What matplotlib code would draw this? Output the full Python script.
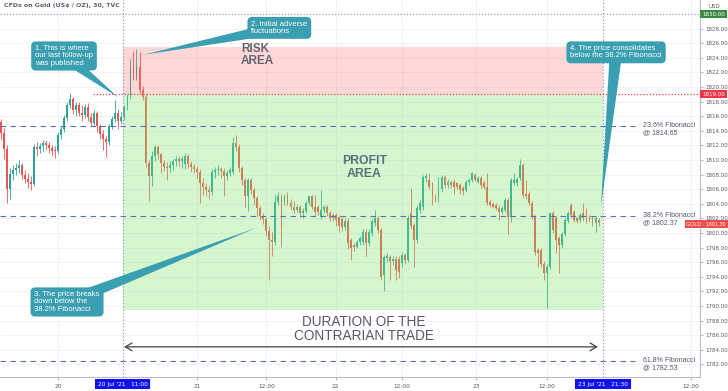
import matplotlib
matplotlib.use("Agg")
import matplotlib.pyplot as plt
from matplotlib.patches import Rectangle

# ---------------- data ----------------
bar_start = -19  # 30-min bars, 0 = 20 Jul 00:00

opens = [
    1815.2, 1813.7, 1811.5, 1806.0, 1808.1, 1808.6, 1808.9, 1809.3, 1807.9, 1807.4,
    1807.0, 1806.7, 1811.8, 1811.5, 1811.9, 1812.3, 1812.0, 1811.6, 1811.3, 1811.2,
    1813.4, 1814.2, 1815.8, 1817.6, 1818.3, 1816.8, 1817.6, 1816.5, 1816.2, 1817.3,
    1815.9, 1815.1, 1816.4, 1814.6, 1813.6, 1812.9, 1812.4, 1814.6, 1815.6, 1816.5,
    1815.4, 1815.9, 1817.2, 1818.7, 1822.7, 1821.4, 1822.8, 1819.6, 1818.6, 1809.6,
    1807.8, 1810.6, 1811.8, 1810.8, 1809.6, 1809.1, 1808.9, 1809.3, 1809.8, 1810.2,
    1809.8, 1809.4, 1810.5, 1809.4, 1809.0, 1808.8, 1808.4, 1806.8, 1806.3, 1805.9,
    1805.6, 1808.4, 1808.6, 1808.8, 1808.5, 1807.8, 1808.2, 1808.4, 1812.3, 1811.8,
    1808.9, 1807.3, 1805.0, 1807.2, 1805.9, 1804.8, 1803.4, 1802.3, 1801.9, 1800.3,
    1799.0, 1798.8, 1804.3, 1805.1, 1804.3, 1805.0, 1804.1, 1803.6, 1803.2, 1803.6,
    1802.7, 1803.0, 1804.1, 1805.0, 1803.6, 1803.6, 1802.2, 1803.1, 1803.6, 1802.7,
    1802.5, 1802.5, 1802.2, 1801.9, 1800.8, 1801.7, 1799.0, 1798.3, 1798.1, 1798.8,
    1798.8, 1800.2, 1798.6, 1800.0, 1801.3, 1802.0, 1800.4, 1794.2, 1796.6, 1796.7,
    1796.1, 1796.5, 1796.5, 1795.9, 1797.0, 1796.3, 1802.7, 1801.1, 1799.0, 1803.1,
    1803.6, 1807.5, 1807.3, 1806.8, 1805.0, 1804.6, 1806.0, 1807.7, 1806.6, 1807.0,
    1807.0, 1806.8, 1806.6, 1806.1, 1805.9, 1807.0, 1807.3, 1808.0, 1807.0, 1807.5,
    1806.8, 1806.3, 1804.3, 1804.0, 1803.8, 1803.4, 1802.9, 1803.2, 1804.5, 1802.2,
    1806.9, 1806.9, 1807.5, 1809.3, 1805.4, 1805.4, 1804.1, 1802.2, 1797.7, 1797.7,
    1795.8, 1794.5, 1795.4, 1802.7, 1802.0, 1799.3, 1798.3, 1799.9, 1801.6, 1803.8,
    1802.9, 1802.0, 1801.8, 1802.7, 1802.5, 1802.2, 1802.0, 1801.3, 1801.8,
]
highs = [
    1815.6, 1814.4, 1812.0, 1808.9, 1809.3, 1809.6, 1810.0, 1809.6, 1808.6, 1808.2,
    1807.8, 1812.2, 1812.4, 1812.3, 1812.8, 1812.7, 1812.5, 1812.1, 1811.9, 1813.8,
    1814.6, 1816.1, 1818.0, 1819.2, 1818.6, 1818.0, 1817.9, 1817.6, 1817.7, 1817.8,
    1816.4, 1816.8, 1816.7, 1815.0, 1814.1, 1813.3, 1815.0, 1816.0, 1818.2, 1817.0,
    1816.6, 1817.5, 1819.1, 1823.9, 1824.9, 1825.2, 1824.8, 1820.2, 1819.0, 1810.0,
    1811.2, 1812.1, 1812.0, 1811.0, 1810.0, 1809.7, 1809.8, 1810.2, 1810.6, 1810.6,
    1810.5, 1810.9, 1810.8, 1809.8, 1809.4, 1809.2, 1808.7, 1807.6, 1806.9, 1806.4,
    1808.8, 1809.0, 1809.3, 1809.1, 1808.9, 1808.6, 1809.0, 1813.2, 1813.4, 1812.2,
    1809.2, 1807.6, 1807.6, 1807.5, 1806.2, 1805.1, 1803.7, 1802.8, 1802.2, 1800.9,
    1800.1, 1805.4, 1805.6, 1805.4, 1805.3, 1805.6, 1804.6, 1804.4, 1804.0, 1803.9,
    1803.4, 1804.4, 1805.2, 1805.2, 1805.2, 1803.9, 1805.9, 1803.9, 1803.9, 1803.0,
    1802.8, 1802.8, 1802.5, 1802.2, 1802.0, 1802.0, 1799.3, 1798.6, 1799.1, 1799.6,
    1800.6, 1800.5, 1800.6, 1801.9, 1803.1, 1802.3, 1800.7, 1797.0, 1797.2, 1797.0,
    1796.9, 1796.8, 1796.8, 1797.4, 1797.3, 1802.4, 1806.1, 1801.4, 1803.8, 1804.5,
    1808.0, 1808.2, 1808.2, 1807.0, 1805.4, 1807.7, 1808.0, 1807.9, 1807.4, 1807.3,
    1807.4, 1807.0, 1806.9, 1806.4, 1807.3, 1807.6, 1808.4, 1808.2, 1807.8, 1807.8,
    1807.2, 1808.2, 1804.6, 1804.2, 1804.1, 1803.8, 1803.7, 1804.8, 1804.8, 1807.6,
    1808.2, 1807.7, 1810.2, 1809.6, 1807.3, 1805.7, 1804.4, 1802.5, 1798.0, 1798.0,
    1796.1, 1795.8, 1802.9, 1803.0, 1802.3, 1799.6, 1800.2, 1802.0, 1803.0, 1804.1,
    1803.2, 1802.3, 1802.8, 1804.1, 1803.4, 1802.5, 1802.3, 1802.3, 1802.1,
]
lows = [
    1812.7, 1810.2, 1804.1, 1804.6, 1807.2, 1807.9, 1808.2, 1807.4, 1806.8, 1806.2,
    1805.9, 1806.4, 1810.6, 1811.0, 1811.3, 1811.5, 1810.9, 1810.6, 1810.3, 1810.9,
    1812.9, 1813.8, 1815.3, 1817.1, 1816.3, 1816.0, 1816.0, 1815.4, 1815.8, 1815.3,
    1814.6, 1814.6, 1813.9, 1812.9, 1811.4, 1810.4, 1812.0, 1814.2, 1815.2, 1814.2,
    1814.9, 1815.5, 1816.9, 1818.4, 1820.9, 1821.0, 1819.2, 1818.2, 1809.0, 1804.4,
    1806.4, 1809.8, 1810.2, 1808.2, 1808.5, 1807.3, 1808.4, 1808.6, 1809.2, 1809.2,
    1808.9, 1808.8, 1808.9, 1808.4, 1808.2, 1807.6, 1804.1, 1805.2, 1805.0, 1804.6,
    1805.2, 1807.6, 1807.9, 1807.6, 1805.0, 1807.2, 1807.8, 1808.1, 1811.2, 1808.4,
    1806.6, 1803.6, 1803.0, 1805.3, 1803.8, 1802.2, 1801.8, 1801.2, 1799.6, 1793.6,
    1796.8, 1798.4, 1803.9, 1798.1, 1803.9, 1803.8, 1803.2, 1802.8, 1802.9, 1802.2,
    1802.1, 1802.7, 1803.8, 1803.3, 1802.5, 1802.4, 1801.9, 1802.8, 1802.3, 1801.6,
    1801.6, 1801.0, 1800.2, 1800.3, 1800.4, 1797.8, 1796.3, 1797.6, 1797.9, 1798.4,
    1798.4, 1796.8, 1798.2, 1799.6, 1801.0, 1800.0, 1793.6, 1792.0, 1796.0, 1793.6,
    1795.6, 1793.6, 1793.9, 1795.4, 1795.8, 1796.0, 1800.5, 1795.4, 1798.6, 1802.8,
    1803.2, 1807.0, 1806.0, 1803.8, 1804.2, 1804.2, 1805.6, 1806.2, 1806.2, 1806.2,
    1805.4, 1806.0, 1805.4, 1805.2, 1805.6, 1806.6, 1807.0, 1807.1, 1806.8, 1806.2,
    1806.0, 1803.8, 1803.5, 1803.4, 1803.2, 1801.8, 1802.6, 1802.9, 1799.9, 1801.5,
    1806.6, 1806.5, 1807.2, 1804.8, 1804.7, 1803.8, 1801.9, 1797.0, 1795.4, 1795.4,
    1793.6, 1789.7, 1795.0, 1800.0, 1797.2, 1794.5, 1798.0, 1799.6, 1801.3, 1802.2,
    1801.5, 1801.3, 1801.5, 1801.7, 1801.3, 1801.5, 1801.0, 1800.2, 1801.0,
]
closes = [
    1813.7, 1811.5, 1806.0, 1808.1, 1808.6, 1808.9, 1809.3, 1807.9, 1807.4, 1807.0,
    1806.7, 1811.8, 1811.5, 1811.9, 1812.3, 1812.0, 1811.6, 1811.3, 1811.2, 1813.4,
    1814.2, 1815.8, 1817.6, 1818.3, 1816.8, 1817.6, 1816.5, 1816.2, 1817.3, 1815.9,
    1815.1, 1816.4, 1814.6, 1813.6, 1812.9, 1812.4, 1814.6, 1815.6, 1816.5, 1815.4,
    1815.9, 1817.2, 1818.7, 1822.7, 1821.4, 1822.8, 1819.6, 1818.6, 1809.6, 1807.8,
    1810.6, 1811.8, 1810.8, 1809.6, 1809.1, 1808.9, 1809.3, 1809.8, 1810.2, 1809.8,
    1810.1, 1810.5, 1809.4, 1809.0, 1808.8, 1808.4, 1806.8, 1806.3, 1805.9, 1805.6,
    1808.4, 1808.6, 1808.8, 1808.5, 1807.8, 1808.2, 1808.6, 1812.3, 1811.8, 1808.9,
    1807.3, 1805.0, 1807.2, 1805.9, 1804.8, 1803.4, 1802.3, 1801.9, 1800.3, 1799.0,
    1798.8, 1804.3, 1805.1, 1800.7, 1805.0, 1804.1, 1803.6, 1803.2, 1803.6, 1802.7,
    1803.0, 1804.1, 1805.0, 1803.6, 1802.9, 1802.9, 1803.1, 1803.5, 1802.7, 1802.1,
    1802.0, 1801.8, 1800.9, 1800.8, 1801.7, 1798.6, 1797.9, 1798.1, 1798.8, 1799.3,
    1800.2, 1798.6, 1800.2, 1801.6, 1802.0, 1800.4, 1794.0, 1796.7, 1796.9, 1796.1,
    1796.5, 1794.9, 1794.7, 1797.0, 1796.3, 1802.0, 1800.9, 1799.0, 1803.4, 1804.1,
    1807.7, 1807.8, 1806.3, 1805.0, 1804.6, 1806.0, 1807.7, 1806.6, 1807.0, 1806.6,
    1806.3, 1806.3, 1805.9, 1805.7, 1807.0, 1807.2, 1808.2, 1807.3, 1807.5, 1806.6,
    1806.3, 1804.1, 1803.8, 1803.6, 1803.4, 1802.9, 1803.4, 1804.5, 1802.2, 1807.3,
    1807.3, 1807.4, 1809.3, 1805.2, 1805.0, 1804.1, 1802.2, 1797.4, 1797.2, 1795.8,
    1794.5, 1795.4, 1802.7, 1800.4, 1799.0, 1798.3, 1799.9, 1801.8, 1802.7, 1802.5,
    1801.8, 1801.6, 1802.5, 1802.0, 1801.6, 1801.8, 1801.3, 1802.0, 1801.3,
]

time_labels = ["20", "21", "12:00", "22", "12:00", "23", "12:00", "12:00"]
time_pos = [0, 46, 69, 92, 114, 138.5, 162, 209.5]
trade_start_label = "20 Jul '21   11:00"
trade_end_label = "23 Jul '21   21:30"
trade_start, trade_end = 21.5, 180.5

price_ticks = list(range(1782, 1830, 2))
stop_level = 1819.00
top_level = 1830.00
risk_top = 1825.5
profit_bottom = 1789.4
last_price = 1801.30
fib_names = ["23.6% Fibonacci", "38.2% Fibonacci", "61.8% Fibonacci"]
fib_levels = [1814.65, 1802.37, 1782.53]

# ---------------- figure ----------------
W, H = 728, 391
fig = plt.figure(figsize=(W / 100, H / 100), dpi=100)
fig.patch.set_facecolor("white")


def fx(x):
    return x / W


def fy(y):
    return 1 - y / H


ax = fig.add_axes([0, fy(377), fx(700), 377 / H])
ax.set_xlim(-19.2, 212.6)
ax.set_ylim(1780.27, 1831.92)
ax.set_facecolor("white")

for s in ["top", "left"]:
    ax.spines[s].set_visible(False)
for s in ["right", "bottom"]:
    ax.spines[s].set_color("#b8bcc6")
    ax.spines[s].set_linewidth(0.8)

# grid
for p in price_ticks:
    ax.axhline(p, color="#eef0f5", lw=0.6, zorder=0)
for tp in time_pos:
    ax.axvline(tp, color="#eef0f5", lw=0.6, zorder=0)

# candles
up, down = "#26a69a", "#ef5350"
t = list(range(bar_start, bar_start + len(closes)))
cols = [up if c >= o else down for o, c in zip(opens, closes)]
ax.vlines(t, lows, highs, colors=cols, lw=0.6, zorder=3)
bottoms = [min(o, c) for o, c in zip(opens, closes)]
heights = [max(abs(c - o), 0.15) for o, c in zip(opens, closes)]
ax.bar(t, heights, bottom=bottoms, width=0.62, color=cols, linewidth=0, zorder=3)

# risk / profit zones
ax.add_patch(Rectangle((trade_start, stop_level), trade_end - trade_start, risk_top - stop_level,
                       facecolor=(1.0, 0.35, 0.35), alpha=0.24, lw=0, zorder=4))
ax.add_patch(Rectangle((trade_start, profit_bottom), trade_end - trade_start, stop_level - profit_bottom,
                       facecolor="#7de36a", alpha=0.32, lw=0, zorder=4))

# horizontal lines
ax.plot([-19.2, 212.6], [top_level, top_level], color="#9ea38c", lw=0.9, ls=(0, (1, 1.5)), zorder=5)
ax.plot([11.6, 212.6], [stop_level, stop_level], color="#f23645", lw=0.9, ls=(0, (1, 1.5)), zorder=5)
for name, lv in zip(fib_names, fib_levels):
    ax.plot([-19.2, 191], [lv, lv], color="#5a6fb5", lw=0.8, ls=(0, (5, 4)), zorder=5)
    ax.text(193.7, lv - 0.45, f"{name}\n@ {lv:.2f}", fontsize=5, color="#4f5866",
            family="Liberation Sans", va="center", ha="left", linespacing=1.0, zorder=6)

# vertical dotted lines
for tv in (trade_start, trade_end):
    ax.axvline(tv, color="#8a80cf", lw=0.8, ls=(0, (1, 2)), zorder=5)

# zone texts
ax.text(60.6, 1824.4, "RISK\nAREA", fontsize=8.5, fontweight="bold", color="#62666f",
        family="Liberation Sans", ha="left", va="center", linespacing=1.05, zorder=6)
ax.text(101.5, 1809.0, "PROFIT\nAREA", fontsize=8.8, fontweight="bold", color="#58707a",
        family="Liberation Sans", ha="center", va="center", linespacing=1.05, zorder=6)
ax.text(101.3, 1786.8, "DURATION OF THE\nCONTRARIAN TRADE", fontsize=9.8, color="#575b63",
        family="Liberation Sans", ha="center", va="center", linespacing=1.0, zorder=6)

# duration arrow
ax.annotate("", xy=(178.8, 1784.4), xytext=(21.9, 1784.4),
            arrowprops=dict(arrowstyle="<->,head_length=0.6,head_width=0.35", color="#444444",
                            lw=0.9, shrinkA=0, shrinkB=0, mutation_scale=8), zorder=6)

# callouts
teal = "#3a9fb0"


def callout(txt, box, pt):
    ax.annotate(txt, xy=pt, xytext=box, fontsize=5.5, color="white", family="Liberation Sans",
                ha="center", va="center", multialignment="left", linespacing=1.05,
                bbox=dict(boxstyle="round,pad=0.5,rounding_size=0.6", fc=teal, ec="none"),
                arrowprops=dict(arrowstyle="wedge,tail_width=0.45", fc=teal, ec="none",
                                mutation_scale=20, shrinkA=0, shrinkB=0, patchA=None),
                zorder=7)


callout("1. This is where\nour last follow-up\nwas published", (2.0, 1824.25), (19.9, 1818.6))
callout("2. Initial adverse\nfluctuations", (73.3, 1828.1), (28.1, 1824.4))
callout("3. The price breaks\ndown below the\n38.2% Fibonacci", (3.0, 1790.55), (65.6, 1800.7))
callout("4. The price consolidates\nbelow the 38.2% Fibonacci", (184.8, 1824.75), (179.8, 1803.6))

# axes ticks
ax.yaxis.tick_right()
ax.set_yticks(price_ticks)
ax.set_yticklabels([f"{p:.2f}" for p in price_ticks])
ax.tick_params(axis="y", length=2, pad=2, labelsize=4.0, labelcolor="#555a63", color="#b8bcc6")
ax.set_xticks(time_pos)
ax.set_xticklabels(time_labels)
ax.tick_params(axis="x", length=2, pad=3, labelsize=4.2, labelcolor="#555a63", color="#b8bcc6")

# highlighted time labels
for tv, lab in ((trade_start, trade_start_label), (trade_end, trade_end_label)):
    ax.text(tv, -0.019, lab, transform=ax.get_xaxis_transform(), fontsize=4.2, color="white",
            ha="center", va="center", clip_on=False, zorder=8,
            bbox=dict(boxstyle="square,pad=0.45", fc="#1212f0", ec="none"))

# price boxes on right scale
ytr = ax.get_yaxis_transform()
ax.text(1.003, top_level, f"{top_level:.2f}", transform=ytr, fontsize=4.0, color="white",
        ha="left", va="center", clip_on=False, zorder=8,
        bbox=dict(boxstyle="square,pad=0.3", fc="#3d8b40", ec="none"))
ax.text(1.003, stop_level, f"{stop_level:.2f}", transform=ytr, fontsize=4.0, color="white",
        ha="left", va="center", clip_on=False, zorder=8,
        bbox=dict(boxstyle="square,pad=0.3", fc="#f23645", ec="none"))
fig.text(fx(726), fy(224), f"GOLD · {last_price:.2f}", fontsize=3.9, color="white",
         family="Liberation Sans", ha="right", va="center", zorder=8,
         bbox=dict(boxstyle="square,pad=0.3", fc="#ef4b4b", ec="none"))

fig.text(fx(4), fy(6), "CFDs on Gold (US$ / OZ), 30, TVC", fontsize=4.5, fontweight="bold",
         color="#5d6270", ha="left", va="center")
fig.text(fx(714), fy(6), "USD", fontsize=4.0, color="#555a63", ha="center", va="center")

fig.savefig("out.png", dpi=100, facecolor="white")
